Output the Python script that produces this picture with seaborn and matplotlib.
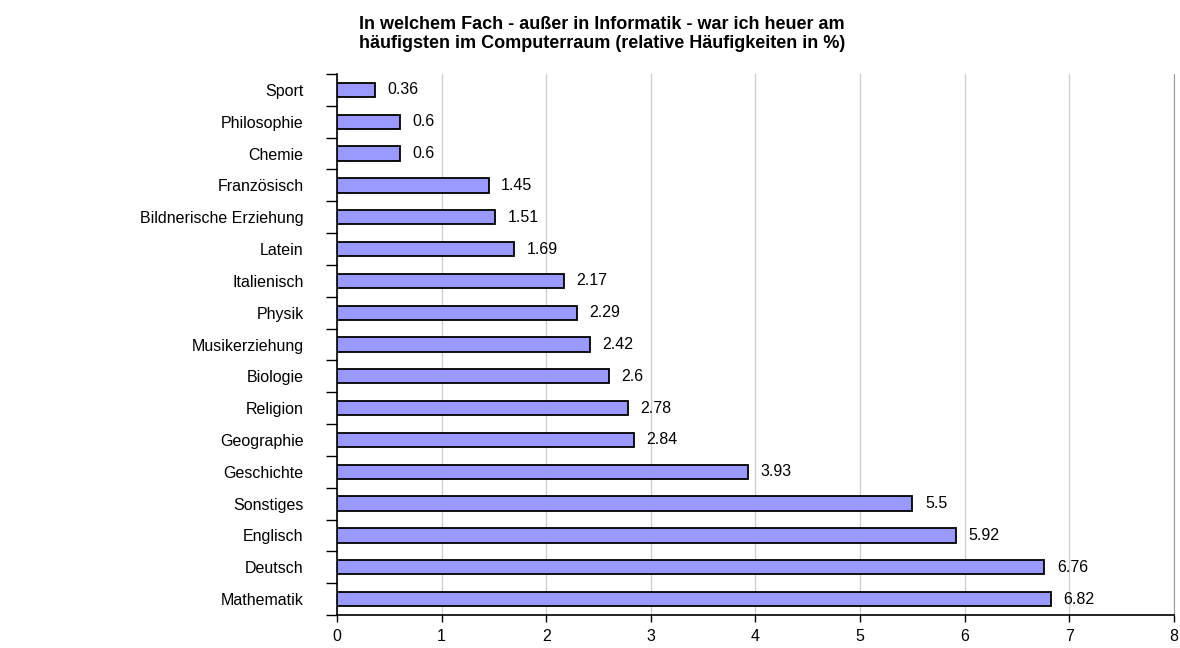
import matplotlib
matplotlib.use("Agg")
import matplotlib.pyplot as plt
import seaborn as sns
import pandas as pd
from matplotlib.ticker import FixedLocator, NullFormatter

# data (top to bottom as in the chart)
faecher = ["Sport", "Philosophie", "Chemie", "Französisch", "Bildnerische Erziehung",
           "Latein", "Italienisch", "Physik", "Musikerziehung", "Biologie", "Religion",
           "Geographie", "Geschichte", "Sonstiges", "Englisch", "Deutsch", "Mathematik"]
prozent = [0.36, 0.6, 0.6, 1.45, 1.51, 1.69, 2.17, 2.29, 2.42, 2.6, 2.78,
           2.84, 3.93, 5.5, 5.92, 6.76, 6.82]
x_ticks = [0, 1, 2, 3, 4, 5, 6, 7, 8]

df = pd.DataFrame({"Fach": faecher, "Prozent": prozent})

sns.set_style("white")
plt.rcParams["font.family"] = ["Liberation Sans", "DejaVu Sans"]
plt.rcParams["text.color"] = "black"
plt.rcParams["xtick.color"] = "black"
plt.rcParams["ytick.color"] = "black"

fig = plt.figure(figsize=(11.8, 6.48), dpi=100)
ax = fig.add_axes([0.2856, 0.0509, 0.7093, 0.8349])

sns.barplot(data=df, x="Prozent", y="Fach", order=faecher, orient="h",
            color="#9999FF", saturation=1, width=0.45,
            edgecolor="black", linewidth=1.3, ax=ax, zorder=3)

ax.set_xlim(0, 8)
ax.set_ylim(len(faecher) - 0.5, -0.5)
ax.set_xticks(x_ticks)
ax.set_xticklabels([str(t) for t in x_ticks], fontsize=11.5)
ax.tick_params(axis="x", length=5, width=1, pad=5, direction="out", bottom=True)

# category labels without ticks, ticks between categories
ax.tick_params(axis="y", which="major", length=0, labelsize=11.5, pad=24)
ax.yaxis.set_minor_locator(FixedLocator([i - 0.5 for i in range(len(faecher) + 1)]))
ax.yaxis.set_minor_formatter(NullFormatter())
ax.tick_params(axis="y", which="minor", length=8, width=1, direction="out", left=True)
ax.set_xlabel("")
ax.set_ylabel("")

ax.grid(axis="x", color="#cccccc", linewidth=0.9, zorder=0)
ax.grid(axis="y", visible=False)

ax.spines["top"].set_visible(False)
ax.spines["right"].set_color("#999999")
ax.spines["left"].set_color("black")
ax.spines["bottom"].set_color("black")
ax.spines["left"].set_linewidth(1.2)
ax.spines["bottom"].set_linewidth(1.2)

ax.bar_label(ax.containers[0], labels=[f"{v:g}" for v in prozent], padding=9, fontsize=11.5)

fig.text(0.51, 0.975,
         "In welchem Fach - außer in Informatik - war ich heuer am\n"
         "häufigsten im Computerraum (relative Häufigkeiten in %)",
         ha="center", va="top", fontsize=13, fontweight="bold", linespacing=1.1)

fig.savefig("out.png", dpi=100)
